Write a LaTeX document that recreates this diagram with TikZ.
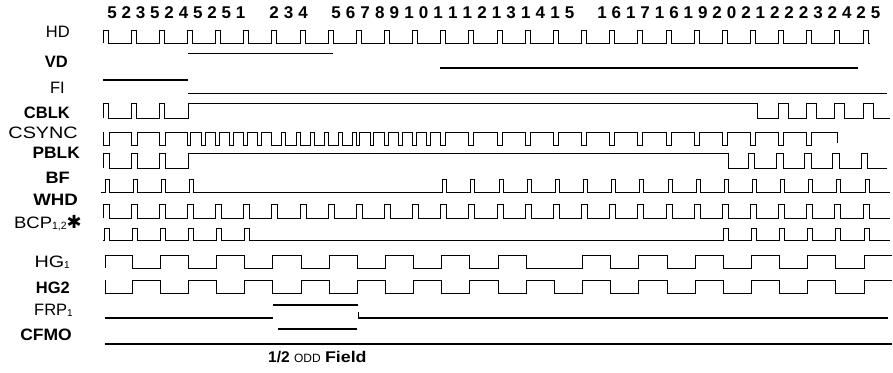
\documentclass[tikz,border=0pt]{standalone}
\usepackage{fontspec}
\setmainfont{Liberation Sans}
\newfontfamily\symfont{DejaVu Sans}
\begin{document}
\begin{tikzpicture}[x=1pt,y=-1pt,
  sig/.style={line width=1pt, line join=miter},
  thk/.style={line width=1.7pt},
  frp/.style={line width=1.4pt},
  lbl/.style={anchor=base east, inner sep=0pt, font=\fontsize{16.5}{16.5}\selectfont},
  lblb/.style={anchor=base east, inner sep=0pt, font=\fontsize{16.5}{16.5}\selectfont\bfseries},
  num/.style={anchor=base, inner sep=0pt, font=\fontsize{17}{17}\selectfont\bfseries}]
\useasboundingbox (0,0) rectangle (893,372);

% top numbers
\foreach \d [count=\i from 0] in {5,2,3,5,2,4,5,2,5,1} \node[num] (na\i) at ({112+14.3*\i},18.5) {\d};
\foreach \d [count=\i from 0] in {2,3,4} \node[num] (nb\i) at ({274+14.5*\i},18.5) {\d};
\foreach \d [count=\i from 0] in {5,6,7,8,9,1,0,1,1,1,2,1,3,1,4,1,5} \node[num] (nc\i) at ({336+14.6*\i},18.5) {\d};
\foreach \d [count=\i from 0] in {1,6,1,7,1,6,1,9,2,0,2,1,2,2,2,3,2,4,2,5} \node[num] (nd\i) at ({602+14.4*\i},18.5) {\d};

% labels
\node[lbl]  (hd)    at (70,37.5)  {HD};
\node[lblb] (vd)    at (68,67)  {VD};
\node[lbl]  (fi)    at (65,93)  {FI};
\node[lblb] (cblk)  at (70,118) {CBLK};
\node[lbl]  (csync) at (78,138) {\scalebox{1.2}[1]{CSYNC}};
\node[lblb] (pblk)  at (80,158.5) {\scalebox{1.05}[1]{PBLK}};
\node[lblb] (bf)    at (70,183) {\scalebox{1.1}[1]{BF}};
\node[lblb] (whd)   at (78,205) {\scalebox{1.13}[1]{WHD}};
\node[lbl]  (bcp)   at (82,228.5) {\scalebox{1.12}[1]{BCP}\raisebox{-1pt}{\fontsize{10.5}{10.5}\selectfont 1,2}{\symfont\fontsize{18}{18}\selectfont ✱}};
\node[lbl]  (hg1)   at (70,267) {\scalebox{1.2}[1]{HG}\raisebox{-1pt}{\fontsize{10}{10}\selectfont 1}};
\node[lblb] (hg2)   at (70,293) {HG2};
\node[lbl]  (frp1)  at (73,315) {FRP\raisebox{-1pt}{\fontsize{10}{10}\selectfont 1}};
\node[lblb] (cfmo)  at (72,340) {\scalebox{1.06}[1]{CFMO}};

% HD
\draw[sig] (103,43) \foreach \k in {0,...,27}{ -- ({103+28.15*\k},43) -- ++(0,-13) -- ++(5,0) -- ++(0,13)} -- (870,43);
% VD
\draw[sig] (188,53) -- (333,53);
\draw[thk] (440,68) -- (858,68);
% FI
\draw[thk] (103,80) -- (188,80);
\draw[sig] (188,93) -- (887,93);
% CBLK
\draw[sig] (103,118) \foreach \k in {0,1,2}{ -- ({103+28.15*\k},118) -- ++(0,-15) -- ++(5,0) -- ++(0,15)}
  -- (188,118) -- (188,103) -- (757,103) -- (757,118)
  \foreach \k in {24,...,27}{ -- ({103+28.15*\k},118) -- ++(0,-15) -- ++(10,0) -- ++(0,15)} -- (890,118);
% CSYNC
\draw[sig] (103,132) \foreach \k in {0,1,2}{ -- ({103+28.15*\k},132) -- ++(0,13) -- ++(6,0) -- ++(0,-13)}
  \foreach \j in {0,...,5}{ -- ({187.45+14.075*\j},132) -- ++(0,13) -- ++(3.5,0) -- ++(0,-13)}
  \foreach \j in {0,...,5}{ -- ({271.9+14.075*\j},132) -- ++(0,13) -- ({271.9+14.075*(\j+1)-4},145) -- ++(0,-13)}
  \foreach \j in {0,...,5}{ -- ({356.35+14.075*\j},132) -- ++(0,13) -- ++(3.5,0) -- ++(0,-13)}
  \foreach \k in {12,...,25}{ -- ({103+28.15*\k},132) -- ++(0,13) -- ++(5,0) -- ++(0,-13)}
  -- (837,132) -- (837,143);
% PBLK
\draw[sig] (103,168) \foreach \k in {0,1,2}{ -- ({103+28.15*\k},168) -- ++(0,-15) -- ++(6.5,0) -- ++(0,15)}
  -- (188,168) -- (188,153) -- (728,153) -- (728,168)
  \foreach \k in {23,...,27}{ -- ({101+28.15*\k},168) -- ++(0,-15) -- ++(6.5,0) -- ++(0,15)} -- (887,168);
% BF
\draw[sig] (101,192) \foreach \k in {0,...,3}{ -- ({105+28.15*\k},192) -- ++(0,-13) -- ++(4,0) -- ++(0,13)}
  \foreach \k in {12,...,27}{ -- ({105+28.15*\k},192) -- ++(0,-13) -- ++(4,0) -- ++(0,13)} -- (890,192);
% WHD
\draw[sig] (103,218) \foreach \k in {0,...,27}{ -- ({103+28.15*\k},218) -- ++(0,-14) -- ++(6,0) -- ++(0,14)} -- (890,218);
% BCP
\draw[sig] (103,240) \foreach \k in {0,...,5}{ -- ({104+28.15*\k},240) -- ++(0,-12) -- ++(5,0) -- ++(0,12)}
  \foreach \k in {22,...,27}{ -- ({104+28.15*\k},240) -- ++(0,-12) -- ++(5,0) -- ++(0,12)} -- (890,240);
% HG1
\draw[sig] (105,268) -- (105,255)
  \foreach \k in {1,3,...,13}{ -- ({104+28.15*\k},255) -- ++(0,13) -- ({104+28.15*(\k+1)},268) -- ++(0,-13)}
  -- ({104+28.15*15},255) -- ++(0,13) -- ({104+28.15*17},268) -- ++(0,-13)
  \foreach \k in {18,20,...,26}{ -- ({104+28.15*\k},255) -- ++(0,13) -- ({104+28.15*(\k+1)},268) -- ++(0,-13)}
  -- (892,255);
% HG2
\draw[sig] (105,280) -- (105,293)
  \foreach \k in {1,3,...,25}{ -- ({104+28.15*\k},293) -- ++(0,-13) -- ({104+28.15*(\k+1)},280) -- ++(0,13)}
  -- ({104+28.15*27},293) -- ++(0,-13) -- (892,280);
% FRP1
\draw[frp] (105,318) -- (273,318);
\draw[frp] (273,305) -- (358,305);
\draw[sig] (358,312) -- (358,318);
\draw[frp] (358,318) -- (888,318);
% CFMO
\draw[frp] (278,329) -- (357,329);
\draw[thk] (105,344) -- (892,344);

\node[anchor=base west, inner sep=0pt] (odd) at (268,362)
  {\fontsize{15.5}{15.5}\selectfont\bfseries 1/2 {\mdseries\fontsize{12}{12}\selectfont ODD} \scalebox{1.15}[1]{Field}};
\end{tikzpicture}
\end{document}
